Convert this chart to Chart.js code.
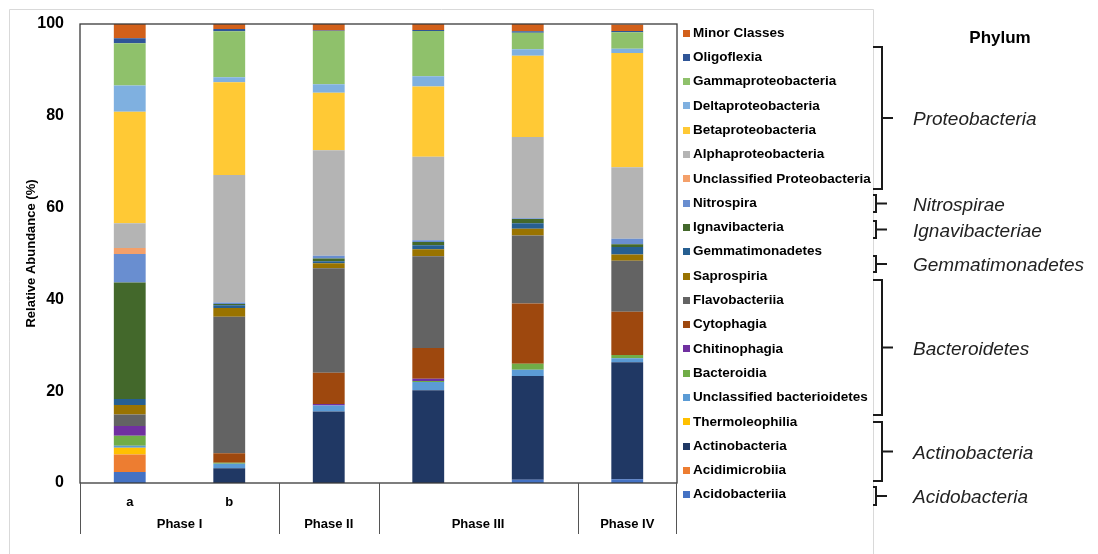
<!DOCTYPE html>
<html>
<head>
<meta charset="utf-8">
<script src="https://cdn.jsdelivr.net/npm/chart.js@4/dist/chart.umd.min.js"></script>
<style>
  html, body { margin: 0; padding: 0; background: #fff; }
  #grafico { display: block; }
</style>
</head>
<body>
<canvas id="grafico" width="1098" height="554"></canvas>
<script>
// samples along the x axis and the phases they belong to
const sampleLabels = ['a', 'b', '', '', '', ''];
const phases = ['Phase I', 'Phase II', 'Phase III', 'Phase IV'];
const phaseSizes = [2, 1, 2, 1];
const yTicks = [0, 20, 40, 60, 80, 100];

// relative abundance (%) per class, one value per sample
const acidobacteriia = [2.4, 0, 0, 0, 0.7, 0.8];
const acidimicrobiia = [3.8, 0, 0, 0, 0, 0];
const actinobacteria = [0, 3.2, 15.6, 20.2, 22.6, 25.5];
const thermoleophilia = [1.5, 0, 0, 0, 0, 0];
const unclBacteroidetes = [0.4, 1.0, 1.3, 1.8, 1.4, 0.9];
const bacteroidia = [2.2, 0.2, 0, 0.2, 1.3, 0.7];
const chitinophagia = [2.1, 0, 0.3, 0.5, 0, 0];
const cytophagia = [0, 2.1, 6.8, 6.7, 13.1, 9.4];
const flavobacteriia = [2.5, 29.7, 22.8, 20.0, 14.8, 11.1];
const saprospiria = [2.1, 1.9, 1.1, 1.5, 1.5, 1.4];
const gemmatimonadetes = [1.3, 0.6, 0.4, 0.9, 1.2, 1.6];
const ignavibacteria = [25.4, 0.3, 0.6, 0.7, 0.9, 0.6];
const nitrospira = [6.2, 0.3, 0.6, 0.4, 0.2, 1.2];
const unclProteobacteria = [1.3, 0, 0, 0, 0, 0];
const alphaproteobacteria = [5.4, 27.8, 23.0, 18.2, 17.7, 15.6];
const betaproteobacteria = [24.3, 20.2, 12.5, 15.3, 17.7, 24.9];
const deltaproteobacteria = [5.7, 1.1, 1.9, 2.2, 1.4, 0.9];
const gammaproteobacteria = [9.2, 10.0, 11.6, 9.9, 3.6, 3.6];
const oligoflexia = [1.1, 0.5, 0.1, 0.2, 0.3, 0.3];
const minorClasses = [3.1, 1.1, 1.4, 1.4, 1.7, 1.4];

// stacking order, bottom to top
const classes = [
  ['Acidobacteriia', acidobacteriia],
  ['Acidimicrobiia', acidimicrobiia],
  ['Actinobacteria', actinobacteria],
  ['Thermoleophilia', thermoleophilia],
  ['Unclassified bacterioidetes', unclBacteroidetes],
  ['Bacteroidia', bacteroidia],
  ['Chitinophagia', chitinophagia],
  ['Cytophagia', cytophagia],
  ['Flavobacteriia', flavobacteriia],
  ['Saprospiria', saprospiria],
  ['Gemmatimonadetes', gemmatimonadetes],
  ['Ignavibacteria', ignavibacteria],
  ['Nitrospira', nitrospira],
  ['Unclassified Proteobacteria', unclProteobacteria],
  ['Alphaproteobacteria', alphaproteobacteria],
  ['Betaproteobacteria', betaproteobacteria],
  ['Deltaproteobacteria', deltaproteobacteria],
  ['Gammaproteobacteria', gammaproteobacteria],
  ['Oligoflexia', oligoflexia],
  ['Minor Classes', minorClasses]
];

const colors = [
  '#4472C4', '#ED7D31', '#203864', '#FFC000', '#5B9BD5',
  '#70AD47', '#7030A0', '#9E480E', '#636363', '#997300',
  '#265F91', '#43682B', '#698ED0', '#F4A06A', '#B4B4B4',
  '#FFC935', '#7FB0E0', '#8FC16B', '#2F5597', '#D2601A'
];

const phylumNames = ['Proteobacteria', 'Nitrospirae', 'Ignavibacteriae', 'Gemmatimonadetes',
  'Bacteroidetes', 'Actinobacteria', 'Acidobacteria'];

const FONTE = "'Liberation Sans', Arial, sans-serif";

// bracket layout on the right: [top, bottom, big]
const chaves = [
  [47, 189, true], [195, 212, false], [221, 238, false], [256, 272, false],
  [280, 415, true], [422, 481, true], [487, 505, false]
];

const desenhos = {
  id: 'desenhos',
  beforeDraw(chart) {
    const ctx = chart.ctx;
    ctx.save();
    ctx.fillStyle = '#fff';
    ctx.fillRect(0, 0, chart.width, chart.height);
    ctx.strokeStyle = '#D9D9D9';
    ctx.lineWidth = 1;
    ctx.beginPath();
    ctx.moveTo(9.5, 554);
    ctx.lineTo(9.5, 9.5);
    ctx.lineTo(873.5, 9.5);
    ctx.lineTo(873.5, 554);
    ctx.stroke();
    ctx.restore();
  },
  afterDatasetsDraw(chart) {
    const ctx = chart.ctx;
    const area = chart.chartArea;
    const x = chart.scales.x;
    ctx.save();
    // plot box
    ctx.strokeStyle = '#3a3a3a';
    ctx.lineWidth = 1.3;
    ctx.strokeRect(area.left, area.top, area.right - area.left, area.bottom - area.top);

    // phase separators and labels
    const meio = (x.getPixelForValue(1) - x.getPixelForValue(0)) / 2;
    ctx.lineWidth = 1;
    ctx.strokeStyle = '#555';
    ctx.fillStyle = '#000';
    ctx.font = 'bold 13px ' + FONTE;
    ctx.textAlign = 'center';
    ctx.textBaseline = 'middle';
    let inicio = 0;
    phases.forEach((nome, i) => {
      const esq = x.getPixelForValue(inicio) - meio;
      const dir = x.getPixelForValue(inicio + phaseSizes[i] - 1) + meio;
      ctx.beginPath();
      ctx.moveTo(Math.round(esq) + 0.5, area.bottom);
      ctx.lineTo(Math.round(esq) + 0.5, 534);
      if (i === phases.length - 1) {
        ctx.moveTo(Math.round(dir) - 0.5, area.bottom);
        ctx.lineTo(Math.round(dir) - 0.5, 534);
      }
      ctx.stroke();
      ctx.fillText(nome, (esq + dir) / 2, 524);
      inicio += phaseSizes[i];
    });
    ctx.restore();
  },
  afterDraw(chart) {
    const ctx = chart.ctx;
    ctx.save();
    // legend, top item first
    const itens = chart.data.datasets.slice().reverse();
    ctx.font = 'bold 13.5px ' + FONTE;
    ctx.textBaseline = 'middle';
    ctx.textAlign = 'left';
    itens.forEach((ds, k) => {
      const y = 33 + k * 24.3;
      ctx.fillStyle = ds.backgroundColor;
      ctx.fillRect(683, Math.round(y - 3.5), 7, 7);
      ctx.fillStyle = '#000';
      ctx.fillText(ds.label, 693, y);
    });

    // phylum brackets
    ctx.fillStyle = '#000';
    ctx.font = 'bold 17px ' + FONTE;
    ctx.textAlign = 'center';
    ctx.fillText('Phylum', 1000, 38);

    ctx.strokeStyle = '#1a1a1a';
    ctx.lineWidth = 2;
    ctx.font = 'italic 19px ' + FONTE;
    ctx.textAlign = 'left';
    phylumNames.forEach((nome, i) => {
      const [top, bottom, big] = chaves[i];
      const xv = big ? 882 : 876;
      const meio = (top + bottom) / 2;
      ctx.beginPath();
      ctx.moveTo(873, top);
      ctx.lineTo(xv, top);
      ctx.lineTo(xv, bottom);
      ctx.lineTo(873, bottom);
      ctx.moveTo(xv, meio);
      ctx.lineTo(xv + 11, meio);
      ctx.stroke();
      ctx.fillStyle = '#222';
      ctx.fillText(nome, 913, meio + 2);
    });
    ctx.restore();
  }
};

function criarGrafico() {
  const ctx = document.getElementById('grafico').getContext('2d');
  const datasets = classes.map((c, i) => ({
    label: c[0],
    data: c[1],
    backgroundColor: colors[i],
    borderWidth: 0,
    barPercentage: 0.32,
    categoryPercentage: 1
  }));

  new Chart(ctx, {
    type: 'bar',
    data: { labels: sampleLabels, datasets: datasets },
    options: {
      responsive: false,
      animation: false,
      devicePixelRatio: 1,
      layout: { padding: { left: 10, right: 421, top: 24, bottom: 11 } },
      plugins: {
        legend: { display: false },
        tooltip: { enabled: false }
      },
      scales: {
        x: {
          stacked: true,
          grid: { display: false },
          border: { display: false },
          ticks: {
            color: '#000',
            font: { family: FONTE, size: 13, weight: 'bold' },
            padding: 4,
            maxRotation: 0,
            autoSkip: false
          },
          afterFit: (scale) => { scale.height = 60; }
        },
        y: {
          stacked: true,
          min: 0,
          max: 100,
          afterBuildTicks: (scale) => { scale.ticks = yTicks.map(v => ({ value: v })); },
          grid: { display: false },
          border: { display: false },
          ticks: {
            color: '#000',
            font: { family: FONTE, size: 16, weight: 'bold' },
            padding: 8
          },
          title: {
            display: true,
            text: 'Relative Abundance (%)',
            color: '#000',
            font: { family: FONTE, size: 13, weight: 'bold' },
            padding: { top: 14, bottom: 0 }
          },
          afterFit: (scale) => { scale.width = 70; }
        }
      }
    },
    plugins: [desenhos]
  });
}

criarGrafico();
</script>
</body>
</html>
